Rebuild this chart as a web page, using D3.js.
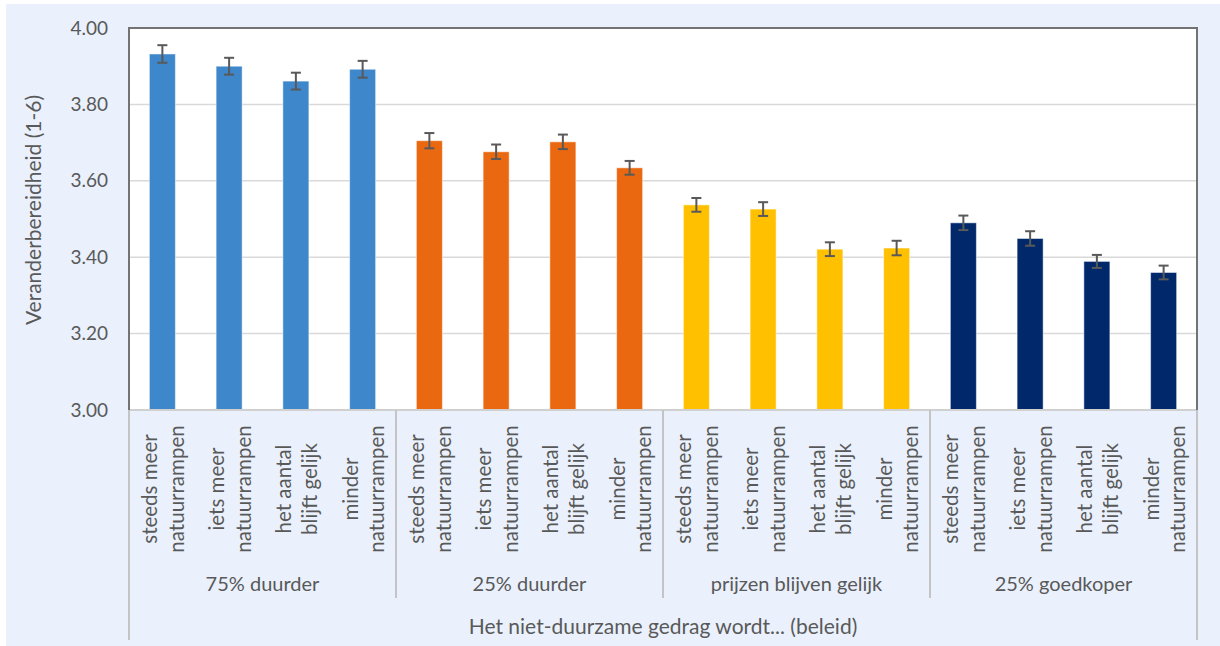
<!DOCTYPE html>
<html>
<head>
<meta charset="UTF-8">
<title>Veranderbereidheid</title>
<style>
  body { margin: 0; background: #fff; }
  text { font-family: Lato, "Open Sans", sans-serif; fill: #595959; }
</style>
</head>
<body>
<script src="https://d3js.org/d3.v7.min.js"></script>
<script>
// data
var groups = ["75% duurder", "25% duurder", "prijzen blijven gelijk", "25% goedkoper"];
var scenarios = [["steeds meer", "natuurrampen"], ["iets meer", "natuurrampen"],
                 ["het aantal", "blijft gelijk"], ["minder", "natuurrampen"]];
var values75 = [3.932, 3.900, 3.861, 3.892];
var values25 = [3.705, 3.676, 3.702, 3.634];
var valuesGelijk = [3.537, 3.526, 3.421, 3.424];
var valuesGoedkoper = [3.490, 3.449, 3.389, 3.360];
var err75 = [0.023, 0.022, 0.022, 0.022];
var err25 = [0.020, 0.019, 0.019, 0.018];
var errGelijk = [0.018, 0.018, 0.018, 0.019];
var errGoedkoper = [0.019, 0.019, 0.017, 0.018];
var groupColors = ["#3e87cb", "#ea6810", "#ffc000", "#00286a"];
var yTicks = [3.00, 3.20, 3.40, 3.60, 3.80, 4.00];
var yTitle = "Veranderbereidheid (1-6)";
var xTitle = "Het niet-duurzame gedrag wordt... (beleid)";

var allValues = [values75, values25, valuesGelijk, valuesGoedkoper];
var allErrors = [err75, err25, errGelijk, errGoedkoper];
var data = [];
groups.forEach(function(g, gi) {
  scenarios.forEach(function(s, si) {
    data.push({ group: g, gi: gi, si: si, label: s, value: allValues[gi][si], err: allErrors[gi][si] });
  });
});

var W = 1220, H = 646;
var margin = { top: 28, right: 23, bottom: 236, left: 129 };
var width = W - margin.left - margin.right,
    height = H - margin.top - margin.bottom;

var svg = d3.select("body").append("svg")
    .attr("width", W)
    .attr("height", H);

svg.append("rect")
    .attr("x", 6).attr("y", 4)
    .attr("width", W - 6).attr("height", H - 4)
    .attr("fill", "#eaf1fc");

var g = svg.append("g")
    .attr("transform", "translate(" + margin.left + "," + margin.top + ")");

var x = d3.scaleBand()
    .domain(d3.range(data.length))
    .range([0, width])
    .padding(0);

var xGroup = d3.scaleBand()
    .domain(groups)
    .range([0, width])
    .padding(0);

var y = d3.scaleLinear()
    .domain([3, 4])
    .range([height, 0]);

// plot background
g.append("rect")
    .attr("width", width).attr("height", height)
    .attr("fill", "#fff");

// gridlines
g.append("g")
    .selectAll("line")
    .data(yTicks.filter(function(d) { return d > 3 && d < 4; }))
    .enter().append("line")
    .attr("x1", 0).attr("x2", width)
    .attr("y1", function(d) { return y(d); })
    .attr("y2", function(d) { return y(d); })
    .attr("stroke", "#d9d9d9")
    .attr("stroke-width", 1.5);

// y axis
var yAxis = g.append("g")
    .call(d3.axisLeft(y).tickValues(yTicks).tickFormat(d3.format(".2f")).tickSize(0).tickPadding(21));
yAxis.select(".domain").remove();
yAxis.selectAll("text")
    .attr("font-size", 19)
    .attr("fill", "#595959")
    .style("font-family", "Lato, sans-serif");

// bars
var bw = x.bandwidth() * 0.39;
g.append("g")
    .selectAll("rect")
    .data(data)
    .enter().append("rect")
    .attr("x", function(d, i) { return x(i) + (x.bandwidth() - bw) / 2; })
    .attr("y", function(d) { return y(d.value); })
    .attr("width", bw)
    .attr("height", function(d) { return height - y(d.value); })
    .attr("fill", function(d) { return groupColors[d.gi]; })
    .attr("stroke", "rgba(255,255,255,0.5)")
    .attr("stroke-width", 1);

// error bars
var eb = g.append("g")
    .attr("stroke", "#595959")
    .attr("stroke-width", 2)
    .selectAll("g")
    .data(data)
    .enter().append("g")
    .attr("transform", function(d, i) { return "translate(" + (x(i) + x.bandwidth() / 2) + ",0)"; });
eb.append("line")
    .attr("y1", function(d) { return y(d.value + d.err); })
    .attr("y2", function(d) { return y(d.value - d.err); });
eb.append("line")
    .attr("x1", -5).attr("x2", 5)
    .attr("y1", function(d) { return y(d.value + d.err); })
    .attr("y2", function(d) { return y(d.value + d.err); });
eb.append("line")
    .attr("x1", -5).attr("x2", 5)
    .attr("y1", function(d) { return y(d.value - d.err); })
    .attr("y2", function(d) { return y(d.value - d.err); });

// frame
g.append("line")
    .attr("x1", 0).attr("x2", width)
    .attr("y1", height).attr("y2", height)
    .attr("stroke", "#d0d0d0").attr("stroke-width", 2);
g.append("path")
    .attr("d", "M0," + height + "V0H" + width + "V" + height)
    .attr("fill", "none")
    .attr("stroke", "#737373")
    .attr("stroke-width", 2);

// group separators
g.append("g")
    .selectAll("line")
    .data(d3.range(groups.length + 1))
    .enter().append("line")
    .attr("x1", function(d) { return d * xGroup.bandwidth(); })
    .attr("x2", function(d) { return d * xGroup.bandwidth(); })
    .attr("y1", height)
    .attr("y2", function(d) { return (d === 0 || d === groups.length) ? height + 230 : height + 188; })
    .attr("stroke", "#c4c4c4")
    .attr("stroke-width", 2);

// category labels
var lab = g.append("g")
    .selectAll("text")
    .data(data)
    .enter().append("text")
    .attr("transform", function(d, i) {
      return "translate(" + (x(i) + x.bandwidth() / 2) + "," + (height + 79) + ") rotate(-90)";
    })
    .attr("text-anchor", "middle")
    .attr("font-size", 20.5);
lab.append("tspan")
    .attr("x", 0).attr("y", -5)
    .text(function(d) { return d.label[0]; });
lab.append("tspan")
    .attr("x", 0).attr("y", 21.5)
    .text(function(d) { return d.label[1]; });

// group labels
g.append("g")
    .selectAll("text")
    .data(groups)
    .enter().append("text")
    .attr("x", function(d) { return xGroup(d) + xGroup.bandwidth() / 2; })
    .attr("y", height + 181)
    .attr("text-anchor", "middle")
    .attr("font-size", 20)
    .text(function(d) { return d; });

// axis titles
g.append("text")
    .attr("x", width / 2)
    .attr("y", height + 224)
    .attr("text-anchor", "middle")
    .attr("font-size", 21)
    .text(xTitle);

g.append("text")
    .attr("transform", "translate(" + (-88) + "," + (height / 2 - 9) + ") rotate(-90)")
    .attr("text-anchor", "middle")
    .attr("font-size", 21)
    .text(yTitle);
</script>
</body>
</html>
